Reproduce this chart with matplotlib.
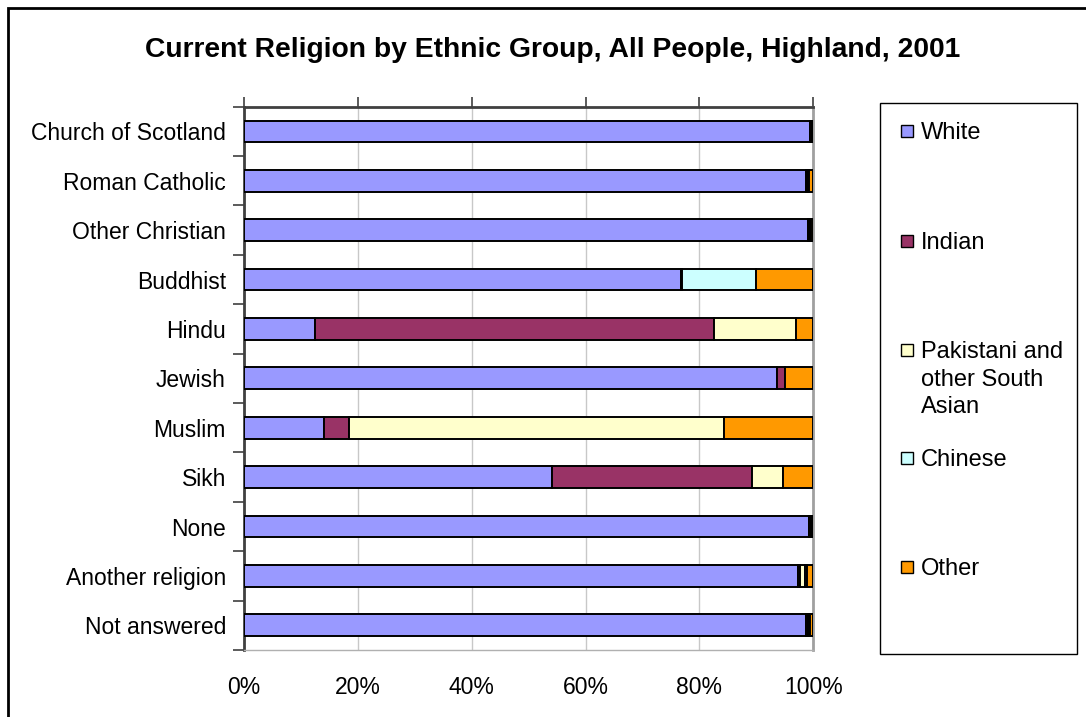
import numpy as np
import matplotlib.pyplot as plt
from matplotlib.patches import Rectangle

plt.rcParams['font.family'] = ['Liberation Sans', 'DejaVu Sans']

religions = ['Church of Scotland', 'Roman Catholic', 'Other Christian', 'Buddhist',
             'Hindu', 'Jewish', 'Muslim', 'Sikh', 'None', 'Another religion',
             'Not answered']
groups = ['White', 'Indian', 'Pakistani and\nother South\nAsian', 'Chinese', 'Other']

# percentages
white     = [99.5, 98.7, 99.1, 76.7, 12.5, 93.7, 14.1, 54.1, 99.3, 97.4, 98.7]
indian    = [0.2,  0.2,  0.2,  0.2,  70.0, 1.3,  4.4,  35.2, 0.3,  0.3,  0.3]
pakistani = [0.1,  0.2,  0.2,  0.1,  14.4, 0.0,  65.8, 5.4,  0.2,  0.9,  0.3]
chinese   = [0.1,  0.2,  0.1,  12.9, 0.0,  0.0,  0.0,  0.0,  0.1,  0.3,  0.2]
other     = [0.1,  0.7,  0.4,  10.1, 3.1,  5.0,  15.7, 5.3,  0.1,  1.1,  0.5]

colors = ['#9999FF', '#993366', '#FFFFCC', '#CCFFFF', '#FF9900']
series = [white, indian, pakistani, chinese, other]

fig = plt.figure(figsize=(10.86, 7.17), dpi=100)
ax = fig.add_axes([244/1086, 1-650/717, (813.3-244)/1086, (650-106.7)/717])

y = np.arange(len(religions))
left = np.zeros(len(religions))
for vals, c in zip(series, colors):
    ax.barh(y, vals, left=left, height=0.44, color=c, edgecolor='black', linewidth=1.4, zorder=3)
    left = left + np.array(vals)

ax.set_xlim(0, 100)
ax.set_ylim(len(religions) - 0.5, -0.5)
ax.set_yticks(y)
ax.set_yticklabels(religions, fontsize=16.5)
ax.set_yticks(np.arange(len(religions) + 1) - 0.5, minor=True)
ax.tick_params(axis='y', which='major', length=0, pad=13)
ax.tick_params(axis='y', which='minor', length=8, direction='out', color='#404040', width=1.2)

ax.set_xticks(np.arange(0, 101, 20))
ax.set_xticklabels(['%d%%' % v for v in range(0, 101, 20)], fontsize=16.5)
ax.tick_params(axis='x', bottom=False, top=True, length=7, direction='out', color='#404040',
               width=1.2, pad=12, labelbottom=True, labeltop=False)
ax.grid(axis='x', color='#c8c8c8', linewidth=1, zorder=0)

ax.spines['top'].set_color('#404040')
ax.spines['top'].set_linewidth(2)
ax.spines['left'].set_color('#404040')
ax.spines['left'].set_linewidth(2)
ax.spines['right'].set_color('#a0a0a0')
ax.spines['right'].set_linewidth(2)
ax.spines['bottom'].set_color('#b0b0b0')
ax.spines['bottom'].set_linewidth(1)

fig.text(553/1086, 1-50/717, 'Current Religion by Ethnic Group, All People, Highland, 2001',
         ha='center', va='center', fontsize=20.3, fontweight='bold')

# outer frame
fig.patches.append(Rectangle((8/1086, -0.1), 1.2, 1 - 8/717 + 0.1, transform=fig.transFigure,
                             fill=False, edgecolor='black', linewidth=2))

# legend box
fig.patches.append(Rectangle((879.5/1086, 1-654/717), (1076.5-879.5)/1086, (654-103)/717,
                             transform=fig.transFigure, fill=False, edgecolor='black', linewidth=1))
legend_y = [131, 241, 350, 458, 567]
for label, c, ly in zip(groups, colors, legend_y):
    fig.patches.append(Rectangle((901/1086, 1-(ly+6)/717), 12/1086, 12/717,
                                 transform=fig.transFigure, facecolor=c, edgecolor='black',
                                 linewidth=1))
    fig.text(921/1086, 1-(ly-9)/717, label, ha='left', va='top', fontsize=17,
             linespacing=1.33)

fig.savefig('out.png', dpi=100)
